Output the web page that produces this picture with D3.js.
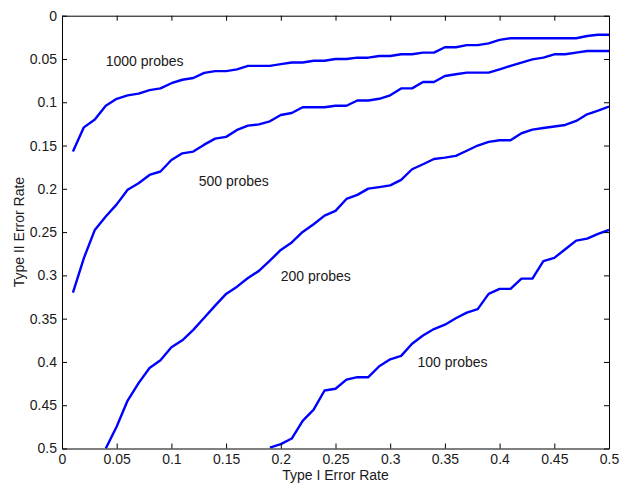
<!DOCTYPE html>
<html>
<head>
<meta charset="utf-8">
<script src="https://cdn.jsdelivr.net/npm/d3@7"></script>
<style>
  body { margin: 0; background: #fff; }
  text { font-family: "Liberation Sans", Arial, sans-serif; fill: #1a1a1a; }
  .axis text { font-size: 14px; }
  .axis path, .axis line { stroke: #000; stroke-width: 1; }
  .curve { fill: none; stroke: #0000ff; stroke-width: 2.4; stroke-linejoin: round; }
</style>
</head>
<body>
<script>
// Type I error rate samples
const rateAll = [0.01, 0.02, 0.03, 0.04, 0.05, 0.06, 0.07, 0.08, 0.09, 0.10,
  0.11, 0.12, 0.13, 0.14, 0.15, 0.16, 0.17, 0.18, 0.19, 0.20,
  0.21, 0.22, 0.23, 0.24, 0.25, 0.26, 0.27, 0.28, 0.29, 0.30,
  0.31, 0.32, 0.33, 0.34, 0.35, 0.36, 0.37, 0.38, 0.39, 0.40,
  0.41, 0.42, 0.43, 0.44, 0.45, 0.46, 0.47, 0.48, 0.49, 0.50];

// Type II error rate per probe count (null = off the chart)
const probes1000 = [0.157, 0.129, 0.120, 0.104, 0.096, 0.092, 0.090, 0.086, 0.084, 0.078,
  0.074, 0.072, 0.066, 0.064, 0.064, 0.062, 0.058, 0.058, 0.058, 0.056,
  0.054, 0.054, 0.052, 0.052, 0.050, 0.050, 0.0485, 0.0485, 0.0465, 0.0465,
  0.0446, 0.0446, 0.0427, 0.0427, 0.0365, 0.0365, 0.034, 0.034, 0.032, 0.028,
  0.026, 0.026, 0.026, 0.026, 0.026, 0.026, 0.026, 0.0234, 0.022, 0.022];

const probes500 = [0.320, 0.280, 0.2475, 0.232, 0.218, 0.201, 0.1935, 0.184, 0.180, 0.1667,
  0.159, 0.157, 0.149, 0.142, 0.140, 0.132, 0.127, 0.1255, 0.122, 0.1147,
  0.1124, 0.1058, 0.1058, 0.1058, 0.104, 0.104, 0.098, 0.098, 0.096, 0.092,
  0.084, 0.084, 0.0766, 0.0766, 0.0696, 0.0677, 0.0658, 0.0658, 0.0658, 0.062,
  0.058, 0.0542, 0.0504, 0.0485, 0.0446, 0.0446, 0.0427, 0.0408, 0.0408, 0.0408];

const probes200 = [null, null, null, 0.500, 0.4746, 0.4446, 0.4245, 0.407, 0.398, 0.383,
  0.375, 0.363, 0.349, 0.335, 0.3214, 0.313, 0.303, 0.2948, 0.283, 0.2706,
  0.262, 0.2498, 0.241, 0.231, 0.2255, 0.2117, 0.207, 0.1998, 0.198, 0.196,
  0.1897, 0.1774, 0.1716, 0.1655, 0.164, 0.162, 0.156, 0.150, 0.1458, 0.1439,
  0.1439, 0.1358, 0.1316, 0.1297, 0.128, 0.1262, 0.1216, 0.1139, 0.1097, 0.105];

const probes100 = [null, null, null, null, null, null, null, null, null, null,
  null, null, null, null, null, null, null, null, 0.499, 0.495,
  0.4885, 0.468, 0.455, 0.433, 0.431, 0.4205, 0.4176, 0.4176, 0.405, 0.397,
  0.393, 0.379, 0.3695, 0.362, 0.357, 0.3495, 0.343, 0.339, 0.3214, 0.3156,
  0.3156, 0.3037, 0.3037, 0.2836, 0.2798, 0.2698, 0.2598, 0.2575, 0.252, 0.2475];

const seriesLabels = ['1000 probes', '500 probes', '200 probes', '100 probes'];
const labelAt = [[0.04, 0.058], [0.125, 0.197], [0.2, 0.307], [0.325, 0.406]];

const xTicks = [0, 0.05, 0.1, 0.15, 0.2, 0.25, 0.3, 0.35, 0.4, 0.45, 0.5];
const yTicks = [0, 0.05, 0.1, 0.15, 0.2, 0.25, 0.3, 0.35, 0.4, 0.45, 0.5];

const W = 626, H = 483;
const margin = { top: 15.7, right: 17, bottom: 34.5, left: 62 };
const width = W - margin.left - margin.right;
const height = H - margin.top - margin.bottom;

const svg = d3.select('body').append('svg')
  .attr('width', W)
  .attr('height', H);

const g = svg.append('g')
  .attr('transform', `translate(${margin.left},${margin.top})`);

const x = d3.scaleLinear().domain([0, 0.5]).range([0, width]);
// Type II axis runs downward
const y = d3.scaleLinear().domain([0, 0.5]).range([0, height]);

const fmt = d => String(+d.toFixed(2));

g.append('clipPath')
  .attr('id', 'plot-clip')
  .append('rect')
  .attr('width', width)
  .attr('height', height);

// Curves
const line = d3.line()
  .defined(d => d[1] !== null)
  .x(d => x(d[0]))
  .y(d => y(d[1]));

[probes1000, probes500, probes200, probes100].forEach((vals) => {
  g.append('path')
    .attr('class', 'curve')
    .attr('clip-path', 'url(#plot-clip)')
    .attr('d', line(rateAll.map((r, i) => [r, vals[i]])));
});

// Axes, ticks pointing inward on all four sides
g.append('g')
  .attr('class', 'axis')
  .attr('transform', `translate(0,${height})`)
  .call(d3.axisBottom(x).tickValues(xTicks).tickFormat(fmt)
    .tickSize(-5).tickSizeOuter(0).tickPadding(6));

g.append('g')
  .attr('class', 'axis')
  .call(d3.axisLeft(y).tickValues(yTicks).tickFormat(fmt)
    .tickSize(-5).tickSizeOuter(0).tickPadding(5));

g.append('g')
  .attr('class', 'axis')
  .call(d3.axisTop(x).tickValues(xTicks).tickFormat('')
    .tickSize(-5).tickSizeOuter(0));

g.append('g')
  .attr('class', 'axis')
  .attr('transform', `translate(${width},0)`)
  .call(d3.axisRight(y).tickValues(yTicks).tickFormat('')
    .tickSize(-5).tickSizeOuter(0));

// Curve labels
g.selectAll('.series-label')
  .data(seriesLabels)
  .enter()
  .append('text')
    .attr('class', 'series-label')
    .attr('x', (d, i) => x(labelAt[i][0]))
    .attr('y', (d, i) => y(labelAt[i][1]))
    .attr('font-size', 14)
    .text(d => d);

// Axis titles
svg.append('text')
  .attr('x', margin.left + width / 2)
  .attr('y', 480)
  .attr('text-anchor', 'middle')
  .attr('font-size', 14)
  .text('Type I Error Rate');

svg.append('text')
  .attr('transform', `translate(24,${margin.top + height / 2})rotate(-90)`)
  .attr('text-anchor', 'middle')
  .attr('font-size', 14)
  .text('Type II Error Rate');
</script>
</body>
</html>
